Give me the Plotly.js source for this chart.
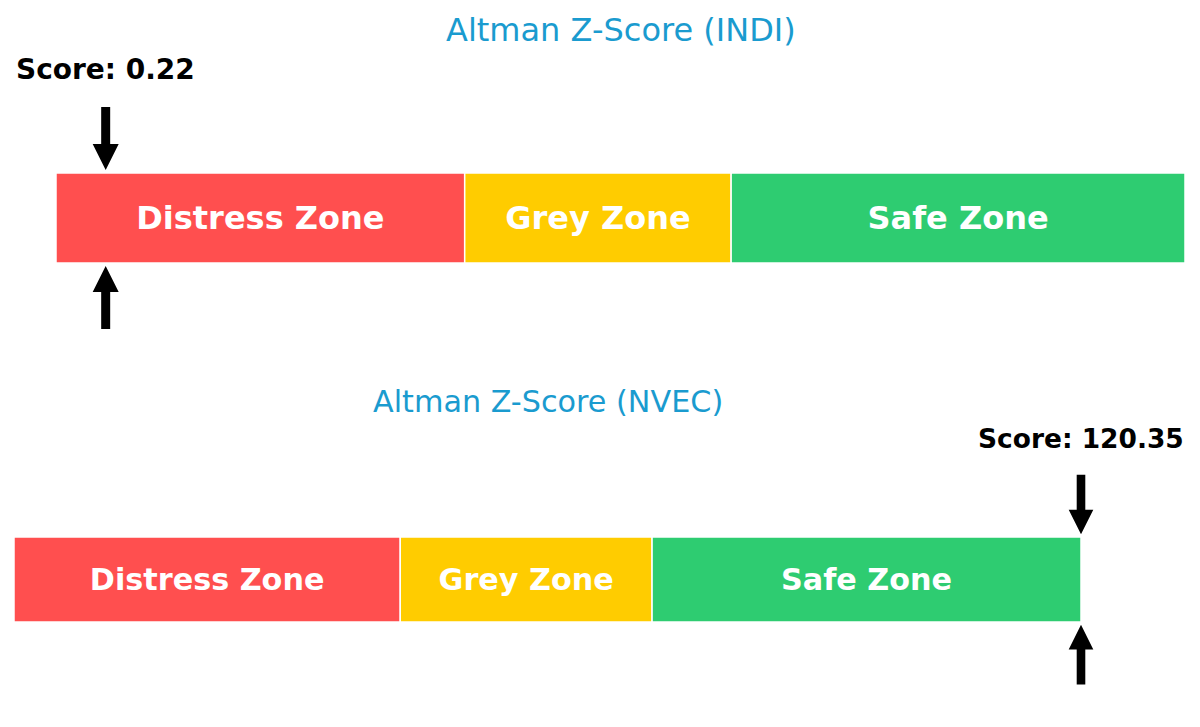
<!DOCTYPE html>
<html><head><meta charset="utf-8">
<script src="https://cdn.plot.ly/plotly-3.0.1.min.js"></script>
<style>body{margin:0;background:#fff}#chart{width:1200px;height:727px}</style>
</head><body><div id="chart"></div>
<script>
// ---- data ----
const zoneNames = ['Distress Zone', 'Grey Zone', 'Safe Zone'];
const zoneStarts = [0, 1.81, 2.99];
const zoneEnds = [1.81, 2.99, 5.0];
const zoneColors = ['#ff4f4f', '#ffcc00', '#2ecc71'];
const companies = ['INDI', 'NVEC'];
const scores = [0.22, 120.35];
const displayMax = 5.0;

// ---- build ----
const axisIds = [['x', 'y'], ['x2', 'y2']];
const yDomains = [[0.6382, 0.762], [0.1444, 0.2613]];
const titleY = [0.9587, 0.4484];
const panelScale = [1.0, 0.945];
const traces = [];
const shapes = [];
const annotations = [];

function arrowPath(k, dir) {
  const hw = 4.5 * k, hh = 13 * k, tip = 3 * k, hb = 29 * k, end = 66 * k;
  const p = [[-hw, end], [hw, end], [hw, hb], [hh, hb], [0, tip], [-hh, hb], [-hw, hb]];
  return 'M ' + p.map(q => q[0].toFixed(1) + ',' + (dir * q[1]).toFixed(1)).join(' L ') + ' Z';
}

companies.forEach((c, i) => {
  const [xa, ya] = axisIds[i];
  const k = panelScale[i];
  zoneNames.forEach((z, j) => {
    traces.push({
      type: 'bar', orientation: 'h',
      y: [0], x: [zoneEnds[j] - zoneStarts[j]], base: [zoneStarts[j]],
      width: 1,
      marker: {color: zoneColors[j], line: {color: '#ffffff', width: 1.5}},
      text: [z], textposition: 'inside', insidetextanchor: 'middle',
      constraintext: 'none',
      textfont: {family: 'DejaVu Sans', size: 32 * k, color: '#ffffff', weight: 'bold'},
      xaxis: xa, yaxis: ya, hoverinfo: 'skip'
    });
  });
  const pos = Math.min(scores[i], displayMax);
  shapes.push({
    type: 'path', xref: xa, yref: 'paper', xsizemode: 'pixel', ysizemode: 'pixel',
    xanchor: pos, yanchor: yDomains[i][1],
    path: arrowPath(k, 1),
    fillcolor: '#000000', line: {width: 0}
  });
  shapes.push({
    type: 'path', xref: xa, yref: 'paper', xsizemode: 'pixel', ysizemode: 'pixel',
    xanchor: pos, yanchor: yDomains[i][0],
    path: arrowPath(k, -1),
    fillcolor: '#000000', line: {width: 0}
  });
  annotations.push({
    xref: xa, yref: 'paper', x: pos, y: yDomains[i][1], yshift: 104 * k, showarrow: false,
    text: '<b>Score: ' + scores[i].toFixed(2) + '</b>',
    font: {family: 'DejaVu Sans', size: 28 * k, color: '#000000'},
    xanchor: 'center', yanchor: 'middle'
  });
  annotations.push({
    xref: xa, yref: 'paper', x: (zoneStarts[0] + displayMax) / 2, y: titleY[i],
    showarrow: false, text: 'Altman Z-Score (' + c + ')',
    font: {family: 'DejaVu Sans', size: 32 * k, color: '#1a9bcf'},
    xanchor: 'center', yanchor: 'middle'
  });
});

const s1 = (1185 - 56) / displayMax;
const s2 = (1081 - 14) / displayMax;
const layout = {
  width: 1200, height: 727,
  margin: {l: 0, r: 0, t: 0, b: 0},
  paper_bgcolor: '#ffffff', plot_bgcolor: 'rgba(0,0,0,0)',
  showlegend: false, barmode: 'overlay',
  xaxis: {domain: [0, 1], range: [-56 / s1, displayMax + 15 / s1], visible: false, fixedrange: true, anchor: 'y'},
  yaxis: {domain: yDomains[0], range: [-0.5, 0.5], visible: false, fixedrange: true, anchor: 'x'},
  xaxis2: {domain: [0, 1], range: [-14 / s2, displayMax + 119 / s2], visible: false, fixedrange: true, anchor: 'y2'},
  yaxis2: {domain: yDomains[1], range: [-0.5, 0.5], visible: false, fixedrange: true, anchor: 'x2'},
  shapes: shapes, annotations: annotations
};
Plotly.newPlot('chart', traces, layout, {staticPlot: true, displayModeBar: false});
</script></body></html>
